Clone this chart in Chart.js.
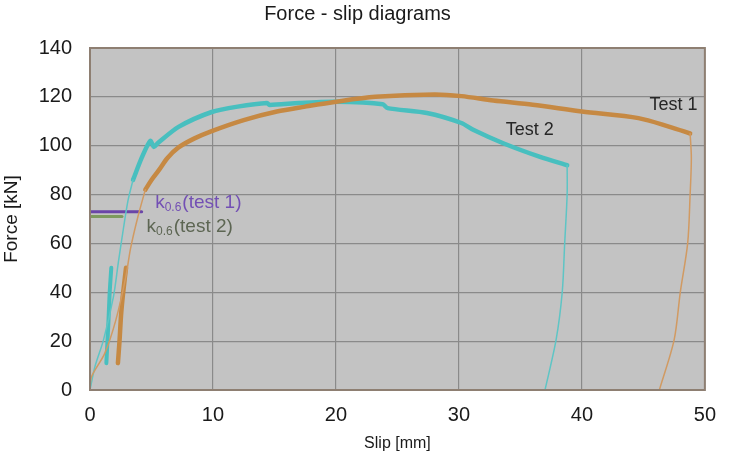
<!DOCTYPE html>
<html><head><meta charset="utf-8">
<script src="https://cdn.jsdelivr.net/npm/chart.js@4/dist/chart.umd.min.js"></script>
<style>html,body{margin:0;padding:0;background:#fff}#wrap{width:729px;height:455px;position:relative}</style>
</head><body><div id="wrap"><canvas id="c"></canvas></div>
<script>
// ---- tick values ----
const xTickValues = [0, 10, 20, 30, 40, 50];
const yTickValues = [0, 20, 40, 60, 80, 100, 120, 140];

// ---- Test 1 (orange) ----
const test1InitX = [0, 0.13, 1.2, 2.1, 2.9, 3.3, 3.9, 4.5];
const test1InitY = [0, 5.5, 15, 28.6, 46, 58, 71, 82];
const test1CycleX = [2.27, 2.4, 2.53, 2.7, 2.93];
const test1CycleY = [11, 20, 31, 40, 50];
const test1MainX = [4.5, 5.0, 5.6, 6.3, 7.2, 8.5, 9.9, 12.5, 15.2, 17.5, 20, 23.2, 28, 30.2, 32.8, 36, 40, 44.6, 47.2, 48.8];
const test1MainY = [82, 86, 90, 95, 99.3, 103, 106, 110.5, 114, 116, 118, 120, 121, 120.3, 118.5, 116.8, 114, 111.3, 107.6, 105];
const test1UnloadX = [48.8, 48.9, 48.8, 48.6, 48, 47.5, 46.3];
const test1UnloadY = [105, 95, 80, 60, 40, 20.5, 0];

// ---- Test 2 (teal) ----
const test2InitX = [0, 0.4, 1.1, 1.9, 2.3, 2.7, 3.1, 3.5];
const test2InitY = [0, 9.5, 20.5, 38, 52, 65.5, 77.8, 86];
const test2CycleX = [1.33, 1.42, 1.5, 1.6, 1.73];
const test2CycleY = [11, 20, 28, 40, 50];
const test2MainX = [3.5, 4.2, 4.9, 5.2, 5.5, 7.2, 9.9, 12, 14.4, 14.6, 17, 20, 23.8, 24.2, 27.4, 30.2, 31.2, 33.6, 36.6, 38.8];
const test2MainY = [86, 95, 102, 99.5, 101, 107.7, 113.8, 116, 117.5, 116.7, 117.5, 118, 117, 115.4, 113.4, 109.3, 106.4, 101, 95.4, 92];
const test2UnloadX = [38.8, 38.8, 38.6, 38.4, 37.9, 37];
const test2UnloadY = [92, 80, 60, 40, 20.5, 0];

// ---- k0.6 levels ----
const k06Test1X = [0, 4.2];
const k06Test1Y = [73, 73];
const k06Test2X = [0, 2.6];
const k06Test2Y = [71, 71];

// ---- text annotations (data coordinates) ----
const labelTexts = ["Test 1", "Test 2"];
const labelX = [45.5, 33.8];
const labelY = [116.6, 106.4];
const kLabelSuffix = ["(test 1)", "(test 2)"];
const kLabelX = [5.3, 4.6];
const kLabelY = [76.8, 66.8];

const pts = (xs, ys) => xs.map((x, i) => ({x: x, y: ys[i]}));

const ORANGE = '#c68943', ORANGE_THIN = '#d19a62';
const TEAL = '#48bfbf', TEAL_THIN = '#5ec5c5';
const PURPLE = '#6a45a8', GREEN = '#7d9a5e';
const FONT = "'Liberation Sans', Arial, sans-serif";

function ds(xs, ys, color, width, tension) {
  return {data: pts(xs, ys), borderColor: color, backgroundColor: color, borderWidth: width,
    showLine: true, pointRadius: 0, tension: tension, fill: false,
    borderCapStyle: 'round', borderJoinStyle: 'round'};
}

const bgPlugin = {
  id: 'bg',
  beforeDraw(chart) {
    const {ctx, chartArea: a} = chart;
    ctx.save();
    ctx.fillStyle = '#c3c3c3';
    ctx.fillRect(a.left, a.top, a.right - a.left, a.bottom - a.top);
    ctx.restore();
  },
  afterDraw(chart) {
    const {ctx, chartArea: a, scales} = chart;
    ctx.save();
    ctx.strokeStyle = '#8e7f72';
    ctx.lineWidth = 2;
    ctx.strokeRect(a.left, a.top, a.right - a.left, a.bottom - a.top);
    ctx.textBaseline = 'middle';
    ctx.textAlign = 'left';
    ctx.fillStyle = '#262626';
    ctx.font = '18px ' + FONT;
    labelTexts.forEach((t, i) => {
      ctx.fillText(t, scales.x.getPixelForValue(labelX[i]), scales.y.getPixelForValue(labelY[i]));
    });
    const kColors = ['#7350b4', '#5d6653'];
    kLabelSuffix.forEach((s, i) => {
      let px = scales.x.getPixelForValue(kLabelX[i]);
      const py = scales.y.getPixelForValue(kLabelY[i]);
      ctx.fillStyle = kColors[i];
      ctx.font = '19px ' + FONT;
      ctx.fillText('k', px, py);
      px += ctx.measureText('k').width;
      ctx.font = '12px ' + FONT;
      ctx.fillText('0.6', px, py + 5);
      px += ctx.measureText('0.6').width + 1;
      ctx.font = '19px ' + FONT;
      ctx.fillText(s, px, py);
    });
    ctx.restore();
  }
};

new Chart(document.getElementById('c'), {
  type: 'scatter',
  data: {datasets: [
    ds(test1InitX, test1InitY, ORANGE_THIN, 1.5, 0.3),
    ds(test2InitX, test2InitY, TEAL_THIN, 1.5, 0.3),
    ds(test1UnloadX, test1UnloadY, ORANGE_THIN, 1.5, 0.3),
    ds(test2UnloadX, test2UnloadY, TEAL_THIN, 1.5, 0.3),
    ds(test1CycleX, test1CycleY, ORANGE, 4.5, 0.2),
    ds(test2CycleX, test2CycleY, TEAL, 4, 0.2),
    ds(test1MainX, test1MainY, ORANGE, 4.5, 0.3),
    ds(test2MainX, test2MainY, TEAL, 4.5, 0.25),
    ds(k06Test1X, k06Test1Y, PURPLE, 3, 0),
    ds(k06Test2X, k06Test2Y, GREEN, 3, 0)
  ]},
  options: {
    responsive: true, maintainAspectRatio: false, animation: false,
    layout: {padding: {left: 0, right: 14, top: 0, bottom: 0}},
    plugins: {
      legend: {display: false}, tooltip: {enabled: false},
      title: {display: true, text: 'Force - slip diagrams', color: '#1a1a1a',
        font: {family: FONT, size: 20, weight: 'normal'}, padding: {top: 2, bottom: 22}}
    },
    scales: {
      x: {type: 'linear', min: 0, max: 50,
        afterBuildTicks: s => { s.ticks = xTickValues.map(v => ({value: v})); },
        afterFit: s => { s.height = 65; },
        grid: {color: '#8a8a8a', lineWidth: 1.2, drawTicks: false},
        border: {display: false},
        ticks: {color: '#1a1a1a', padding: 13, font: {family: FONT, size: 20}},
        title: {display: true, text: 'Slip [mm]', color: '#1a1a1a', font: {family: FONT, size: 16}, padding: {top: 0, bottom: 2}}
      },
      y: {type: 'linear', min: 0, max: 140,
        afterBuildTicks: s => { s.ticks = yTickValues.map(v => ({value: v})); },
        afterFit: s => { s.width = 90; },
        grid: {color: '#8a8a8a', lineWidth: 1.2, drawTicks: false},
        border: {display: false},
        ticks: {color: '#1a1a1a', padding: 18, font: {family: FONT, size: 20}},
        title: {display: true, text: 'Force [kN]', color: '#1a1a1a', font: {family: FONT, size: 19}, padding: {top: 0, bottom: 0}}
      }
    }
  },
  plugins: [bgPlugin]
});
</script></body></html>
